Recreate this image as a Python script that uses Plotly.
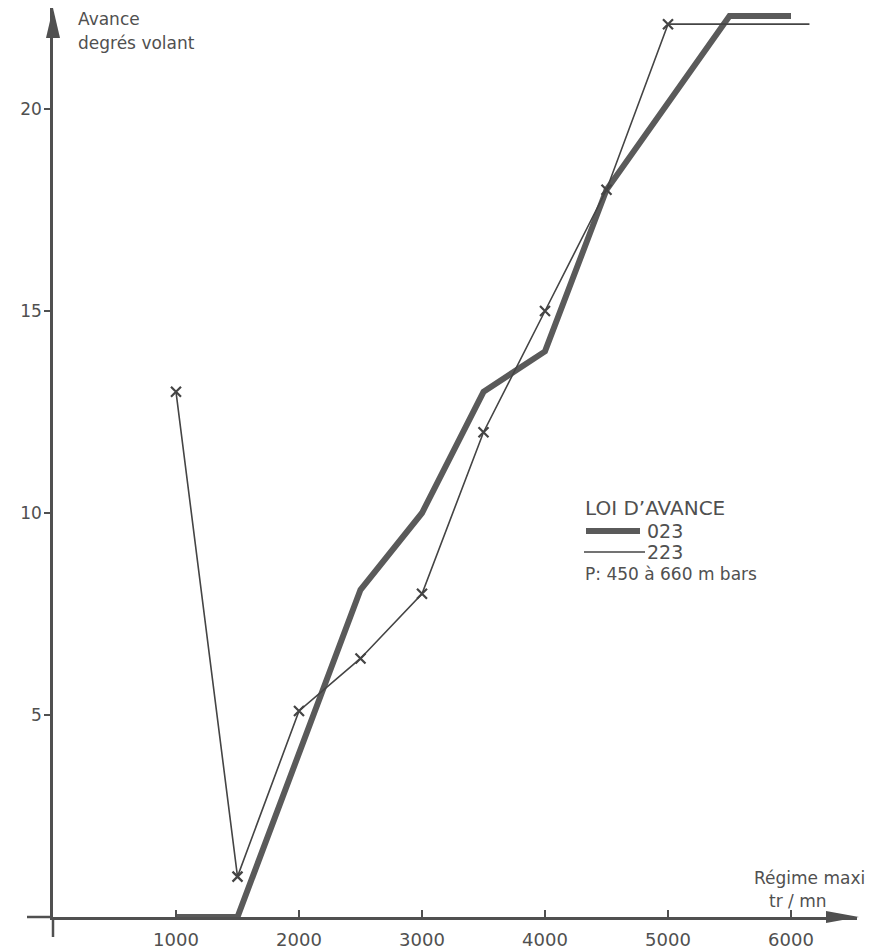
import plotly.graph_objects as go

# --- data ---
loi_023_x = [1000, 1500, 2500, 3000, 3500, 4000, 4500, 5500, 6000]
loi_023_y = [0, 0, 8.1, 10, 13, 14, 18, 22.3, 22.3]

loi_223_x = [1000, 1500, 2000, 2500, 3000, 3500, 4000, 4500, 5000]
loi_223_y = [13, 1, 5.1, 6.4, 8, 12, 15, 18, 22.1]
loi_223_tail_x = [5000, 6150]
loi_223_tail_y = [22.1, 22.1]

y_ticks = [5, 10, 15, 20]
x_ticks = [1000, 2000, 3000, 4000, 5000, 6000]

INK = "#505050"
FONT = "DejaVu Sans, sans-serif"

# page body margin: the figure starts 8px in from the window corner
OFF = 8
W, H = 881 - OFF, 950 - OFF
# plot area in window pixels
L, R, T, B = 53, 857, 8, 917


def px(x):
    return (x - L) / (R - L)


def py(y):
    return (B - y) / (B - T)


fig = go.Figure()

fig.add_trace(go.Scatter(
    x=loi_023_x, y=loi_023_y, mode="lines",
    line=dict(color="#5a5a5a", width=6), cliponaxis=False,
))
fig.add_trace(go.Scatter(
    x=loi_223_x, y=loi_223_y, mode="lines+markers",
    line=dict(color="#444444", width=1.6),
    marker=dict(symbol="x-thin", size=10, line=dict(color="#444444", width=2.2)),
    cliponaxis=False,
))
fig.add_trace(go.Scatter(
    x=loi_223_tail_x, y=loi_223_tail_y, mode="lines",
    line=dict(color="#444444", width=1.6), cliponaxis=False,
))

shapes = [
    # axis extensions past the origin
    dict(type="line", xref="paper", yref="paper", x0=px(27), x1=px(53), y0=0, y1=0,
         line=dict(color=INK, width=2.5)),
    dict(type="line", xref="paper", yref="paper", x0=0, x1=0, y0=py(937), y1=0,
         line=dict(color=INK, width=2.5)),
    # arrow heads
    dict(type="path", xref="paper", yref="paper",
         path=f"M {px(53)},{py(8)} L {px(46)},{py(38)} L {px(60)},{py(38)} Z",
         fillcolor=INK, line=dict(width=0)),
    dict(type="path", xref="paper", yref="paper",
         path=f"M {px(859)},{py(917)} L {px(826)},{py(911)} L {px(826)},{py(923)} Z",
         fillcolor=INK, line=dict(width=0)),
    # legend samples
    dict(type="line", xref="paper", yref="paper", x0=px(586), x1=px(640), y0=py(531), y1=py(531),
         line=dict(color="#5a5a5a", width=6)),
    dict(type="line", xref="paper", yref="paper", x0=px(584), x1=px(645), y0=py(552), y1=py(552),
         line=dict(color="#444444", width=1.6)),
]


def label(text, x, y, anchor="left", size=17):
    return dict(text=text, x=px(x), y=py(y), xanchor=anchor, yanchor="middle",
                xref="paper", yref="paper", showarrow=False,
                font=dict(family=FONT, size=size, color=INK))


annotations = [
    label("Avance", 76, 19),
    label("degrés volant", 76, 43),
    label("Régime maxi", 752, 878),
    label("tr / mn", 798, 901, anchor="center"),
    label("LOI D’AVANCE", 583, 508, size=20),
    label("023", 645, 531, size=19),
    label("223", 645, 552, size=19),
    label("P: 450 à 660 m bars", 583, 574, size=17),
]

fig.update_xaxes(
    range=[0, (R - L) / 0.123], showgrid=False, zeroline=False, automargin=False,
    showline=True, linecolor=INK, linewidth=2.5,
    tickvals=x_ticks, ticks="inside", ticklen=7, tickwidth=2, tickcolor=INK,
    ticklabelstandoff=5,
    tickfont=dict(family=FONT, size=18, color=INK),
)
fig.update_yaxes(
    range=[0, (B - T) / 40.4], showgrid=False, zeroline=False, automargin=False,
    showline=True, linecolor=INK, linewidth=2.5,
    tickvals=y_ticks, ticks="outside", ticklen=6, tickwidth=2, tickcolor=INK,
    ticklabelstandoff=-1,
    tickfont=dict(family=FONT, size=17, color=INK),
)

fig.update_layout(
    width=W, height=H,
    margin=dict(l=L - OFF, r=W - (R - OFF), t=T - OFF, b=H - (B - OFF)),
    plot_bgcolor="white", paper_bgcolor="white",
    showlegend=False, shapes=shapes, annotations=annotations,
)

fig.write_html("out.html")
